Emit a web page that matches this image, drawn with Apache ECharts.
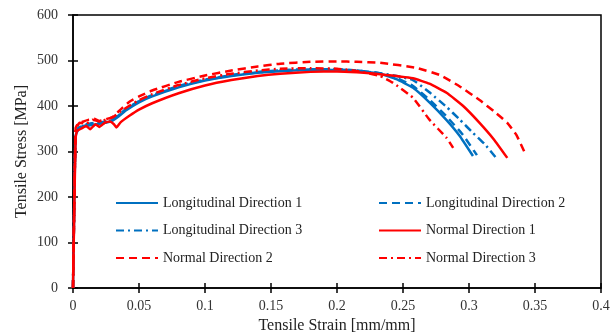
<!DOCTYPE html>
<html>
<head>
<meta charset="utf-8">
<script src="https://cdn.jsdelivr.net/npm/echarts@6/dist/echarts.min.js"></script>
<style>
  html, body { margin: 0; padding: 0; background: #fff; }
  #chart { width: 616px; height: 333px; }
</style>
</head>
<body>
<div id="chart"></div>
<script>
// strain [mm/mm], stress [MPa]
const long1 = [[0,0],[0.001,190],[0.002,335],[0.004,348],[0.008,355],[0.014,358],[0.02,361],[0.026,364],[0.03,368],[0.035,378],[0.04,390],[0.05,408],[0.06,421],[0.08,441],[0.1,456],[0.12,466],[0.14,473],[0.16,477],[0.18,479],[0.2,479],[0.215,477],[0.2326,471],[0.245,459],[0.2576,440],[0.27,408],[0.283,369],[0.293,334],[0.303,290]];
const long2 = [[0,0],[0.001,200],[0.002,340],[0.004,352],[0.008,358],[0.014,362],[0.02,364],[0.026,366],[0.03,370],[0.035,381],[0.04,393],[0.05,411],[0.06,424],[0.08,444],[0.1,458],[0.12,468],[0.14,475],[0.16,479],[0.18,481],[0.2,481],[0.215,478],[0.2326,472],[0.245,462],[0.2576,444],[0.27,414],[0.283,377],[0.295,338],[0.306,292]];
const long3 = [[0,0],[0.001,195],[0.002,338],[0.004,350],[0.008,356],[0.014,360],[0.02,363],[0.026,366],[0.03,369],[0.035,380],[0.04,392],[0.05,410],[0.06,423],[0.08,443],[0.1,457],[0.12,467],[0.14,474],[0.16,478],[0.18,480],[0.2,480],[0.215,478],[0.2326,472],[0.245,466],[0.2576,457],[0.27,430],[0.283,398],[0.293,370],[0.303,341],[0.312,316],[0.32,288]];
const norm1 = [[0,0],[0.001,180],[0.002,330],[0.003,345],[0.006,350],[0.01,356],[0.013,349],[0.017,360],[0.02,354],[0.024,363],[0.028,366],[0.031,360],[0.033,353],[0.036,364],[0.043,379],[0.05,392],[0.06,406],[0.08,428],[0.1,445],[0.12,457],[0.14,466],[0.157,471],[0.18,475],[0.2,476],[0.215,474],[0.2326,470],[0.2576,461],[0.27,449],[0.283,429],[0.296,399],[0.308,363],[0.319,326],[0.329,286]];
const norm2 = [[0,0],[0.001,200],[0.002,352],[0.004,362],[0.008,366],[0.012,370],[0.016,372],[0.02,367],[0.025,371],[0.03,376],[0.036,392],[0.043,410],[0.05,421],[0.06,434],[0.08,453],[0.1,467],[0.12,478],[0.14,487],[0.157,493],[0.18,497],[0.2,498],[0.215,497],[0.2326,495],[0.26,484],[0.278,468],[0.293,443],[0.308,413],[0.319,388],[0.329,363],[0.336,336],[0.342,299]];
const norm3 = [[0,0],[0.001,190],[0.002,348],[0.005,363],[0.01,361],[0.015,370],[0.02,366],[0.026,371],[0.03,375],[0.036,388],[0.043,401],[0.05,413],[0.06,426],[0.08,446],[0.1,461],[0.12,471],[0.14,478],[0.157,482],[0.18,483],[0.2,482],[0.215,477],[0.2326,466],[0.2424,451],[0.2576,418],[0.27,370],[0.283,330],[0.288,308]];

const xTicks = ['0', '0.05', '0.1', '0.15', '0.2', '0.25', '0.3', '0.35', '0.4'];

const BLUE = '#0070C0';
const RED = '#FF0000';
const DASH = [8, 5];
const DASHDOT = [8, 4, 2, 4];
const FONT = 'Liberation Serif';

function line(name, data, color, type) {
  return {
    name,
    type: 'line',
    data,
    symbol: 'none',
    smooth: 0.12,
    lineStyle: { color, width: 2.5, type },
    itemStyle: { color },
    animation: false,
  };
}

const series = [
  line('Longitudinal Direction 1', long1, BLUE, 'solid'),
  line('Longitudinal Direction 2', long2, BLUE, DASH),
  line('Longitudinal Direction 3', long3, BLUE, DASHDOT),
  line('Normal Direction 1', norm1, RED, 'solid'),
  line('Normal Direction 2', norm2, RED, DASH),
  line('Normal Direction 3', norm3, RED, DASHDOT),
];

// legend keys: line only, no marker
const legendBase = {
  orient: 'vertical',
  itemWidth: 42,
  itemHeight: 12,
  itemGap: 13.5,
  itemStyle: { opacity: 0 },
  textStyle: { fontFamily: FONT, fontSize: 14, color: '#222' },
};

const chart = echarts.init(document.getElementById('chart'));
chart.setOption({
  backgroundColor: '#fff',
  animation: false,
  textStyle: { fontFamily: FONT },
  grid: {
    left: 73, right: 15, top: 15, bottom: 45,
    outerBoundsMode: 'none', containLabel: false,
    show: true, borderColor: '#000', borderWidth: 1.5,
  },
  legend: [
    Object.assign({ left: 110, top: 191, data: [series[0].name, series[2].name, series[4].name] }, legendBase),
    Object.assign({ left: 373, top: 191, data: [series[1].name, series[3].name, series[5].name] }, legendBase),
  ],
  xAxis: [
    {
      type: 'value', min: 0, max: 0.4, interval: 0.05,
      name: 'Tensile Strain [mm/mm]', nameLocation: 'middle', nameGap: 29,
      nameTextStyle: { fontFamily: FONT, fontSize: 16, color: '#222' },
      axisLine: { lineStyle: { color: '#000', width: 1.5 } },
      axisTick: { length: 5, lineStyle: { color: '#000', width: 1.5 } },
      axisLabel: {
        fontFamily: FONT, fontSize: 14, color: '#333', margin: 11,
        formatter: (v) => xTicks[Math.round(v / 0.05)],
      },
      splitLine: { show: false },
    },
    {
      type: 'value', min: 0, max: 0.4, interval: 0.05, position: 'bottom',
      axisLine: { show: false },
      axisTick: { inside: true, length: 5, lineStyle: { color: '#000', width: 1.5 } },
      axisLabel: { show: false },
      splitLine: { show: false },
    },
  ],
  yAxis: [
    {
      type: 'value', min: 0, max: 600, interval: 100,
      name: 'Tensile Stress [MPa]', nameLocation: 'middle', nameGap: 43,
      nameMoveOverlap: false,
      nameTextStyle: { fontFamily: FONT, fontSize: 16, color: '#222' },
      axisLine: { show: true, lineStyle: { color: '#000', width: 1.5 } },
      axisTick: { show: true, length: 5, lineStyle: { color: '#000', width: 1.5 } },
      axisLabel: { fontFamily: FONT, fontSize: 14, color: '#333', margin: 15 },
      splitLine: { show: false },
    },
    {
      type: 'value', min: 0, max: 600, interval: 100, position: 'left',
      axisLine: { show: false },
      axisTick: { show: true, inside: true, length: 5, lineStyle: { color: '#000', width: 1.5 } },
      axisLabel: { show: false },
      splitLine: { show: false },
    },
  ],
  series,
});
</script>
</body>
</html>
